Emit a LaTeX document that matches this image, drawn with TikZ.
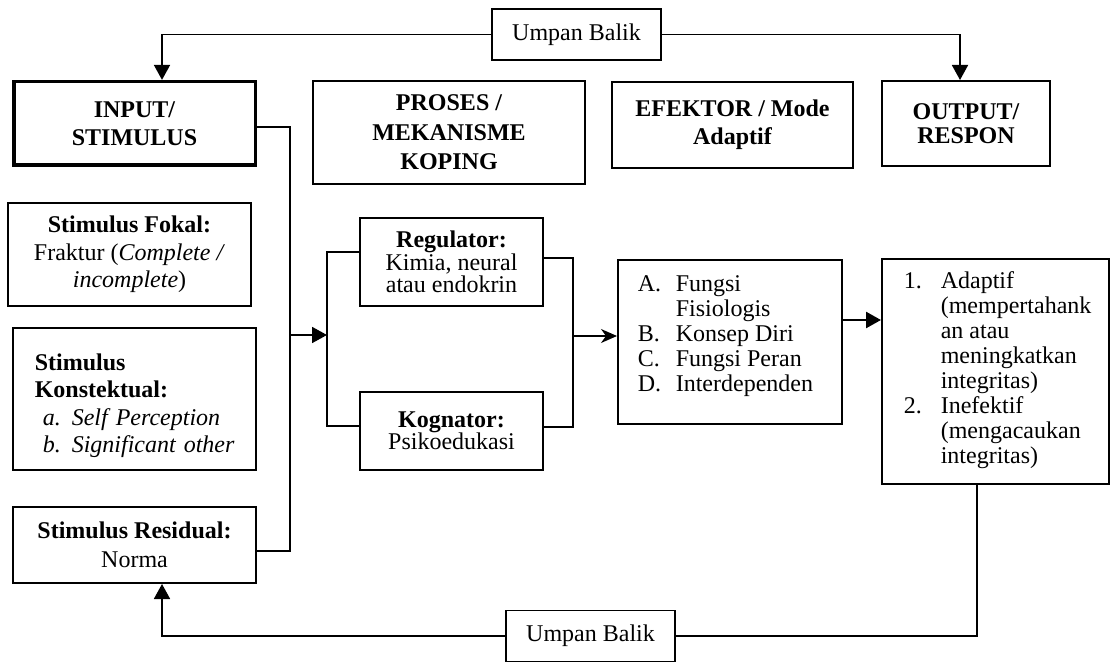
\documentclass[tikz,border=0pt]{standalone}
\usepackage{fontspec}
\setmainfont{Liberation Serif}
\usetikzlibrary{arrows.meta}

\begin{document}
\begin{tikzpicture}[x=0.5pt,y=-0.5pt,
    box/.style={draw, line width=0.8pt, align=center, inner sep=0pt, font=\fontsize{12}{12.5}\selectfont},
    head/.style={box, font=\fontsize{12}{14}\selectfont\bfseries},
    line/.style={line width=0.65pt},
    arr/.style={line width=0.9pt, -{Triangle[length=7.5pt,width=8pt]}},
    thinarr/.style={line width=0.7pt, -{Stealth[length=8pt,width=7pt,inset=2.5pt]}}]
    \useasboundingbox (0,0) rectangle (1113,662);

    % top row
    \node[box, minimum width=84.7pt, minimum height=25.7pt] (umpantop) at (576.5,34.5) {Umpan Balik};
    \node[head, line width=1.8pt, minimum width=120.8pt, minimum height=41.8pt] (input) at (134.5,123.5) {INPUT/\\STIMULUS};
    \node[head, font=\fontsize{12}{14.75}\selectfont\bfseries, minimum width=136.2pt, minimum height=51.7pt] (proses) at (449,132.5) {PROSES /\\MEKANISME\\KOPING};
    \node[head, minimum width=120.7pt, minimum height=43.2pt] (efektor) at (732.5,125) {EFEKTOR / Mode\\Adaptif};
    \node[head, font=\fontsize{12}{11.75}\selectfont\bfseries, minimum width=84.2pt, minimum height=42.7pt] (output) at (966,123.5) {OUTPUT/\\RESPON};

    % stimulus
    \node[box, font=\fontsize{12}{13.75}\selectfont, minimum width=121.7pt, minimum height=51.7pt] (fokal) at (129.5,254.5)
        {\textbf{Stimulus Fokal:}\\Fraktur (\textit{Complete /}\\\textit{incomplete})};
    \node[box, font=\fontsize{12}{13.75}\selectfont, align=left, text width=110.7pt, inner xsep=5.5pt, minimum height=71.2pt] (konstektual) at (134.5,399)
        {\hspace*{5.5pt}\rule{0pt}{15pt}\textbf{Stimulus}\\\hspace*{5.5pt}\textbf{Konstektual:}\\
         \hspace*{9.5pt}\makebox[14.5pt][l]{\textit{a.}}\textit{Self Perception}\\
         \hspace*{9.5pt}\makebox[14.5pt][l]{\textit{b.}}\textit{Significant other}};
    \node[box, font=\fontsize{12}{14.5}\selectfont, minimum width=121.7pt, minimum height=38.2pt] (residual) at (134.5,545)
        {\textbf{Stimulus Residual:}\\Norma};

    % koping
    \node[box, font=\fontsize{12}{11.25}\selectfont, minimum width=91.7pt, minimum height=44.2pt] (regulator) at (451.5,262)
        {\textbf{Regulator:}\\Kimia, neural\\atau endokrin};
    \node[box, font=\fontsize{12}{11}\selectfont, minimum width=91.7pt, minimum height=39.2pt] (kognator) at (451.5,431)
        {\textbf{Kognator:}\\Psikoedukasi};

    % mode adaptif dan respon
    \node[box, minimum width=112.2pt, minimum height=82.2pt] (fungsi) at (730,342)
        {\parbox[c][82.2pt][t]{112.2pt}{\vspace*{7pt}\hspace*{10pt}%
         \begin{tabular}[t]{@{}p{19pt}@{}l@{}}
         A. & Fungsi\\ & Fisiologis\\ B. & Konsep Diri\\ C. & Fungsi Peran\\ D. & Interdependen
         \end{tabular}}};
    \node[box, minimum width=113.7pt, minimum height=112.7pt] (adaptif) at (995.5,371.5)
        {\parbox[c][112.7pt][t]{113.7pt}{\vspace*{6.25pt}\hspace*{11pt}%
         \begin{tabular}[t]{@{}p{18.5pt}@{}l@{}}
         1. & Adaptif\\ & (mempertahank\\ & an atau\\ & meningkatkan\\ & integritas)\\
         2. & Inefektif\\ & (mengacaukan\\ & integritas)
         \end{tabular}}};

    \node[box, minimum width=84.7pt, minimum height=25.7pt] (umpanbot) at (590.5,636) {Umpan Balik};

    \coordinate (busX) at (290,335);
    \coordinate (brkL) at (327,335);
    \coordinate (brkR) at (573,336);
    \coordinate (fbL) at (162,634);
    \coordinate (fa) at ([yshift=11pt]fungsi.east);

    % connectors
    \draw[line] ([yshift=-1.75pt]input.east) -| (busX) |- ([yshift=-3pt]residual.east);
    \draw[arr] (busX) -- (brkL);
    \draw[line] ([yshift=5pt]regulator.west) -| (brkL) |- ([yshift=2.5pt]kognator.west);
    \draw[line] ([yshift=2pt]regulator.east) -| (brkR) |- ([yshift=2pt]kognator.east);
    \draw[thinarr] (brkR) -- (brkR -| fungsi.west);
    \draw[arr, line width=1.3pt] (fa) -- (fa -| adaptif.west);

    % umpan balik
    \draw[arr] (umpantop.west) -| (fbL |- input.north);
    \draw[arr] (umpantop.east) -| ([xshift=-3pt]output.north);
    \draw[line] ([xshift=-9.25pt]adaptif.south) |- (umpanbot.east);
    \draw[arr] (umpanbot.west) -| (fbL |- residual.south);
\end{tikzpicture}
\end{document}
